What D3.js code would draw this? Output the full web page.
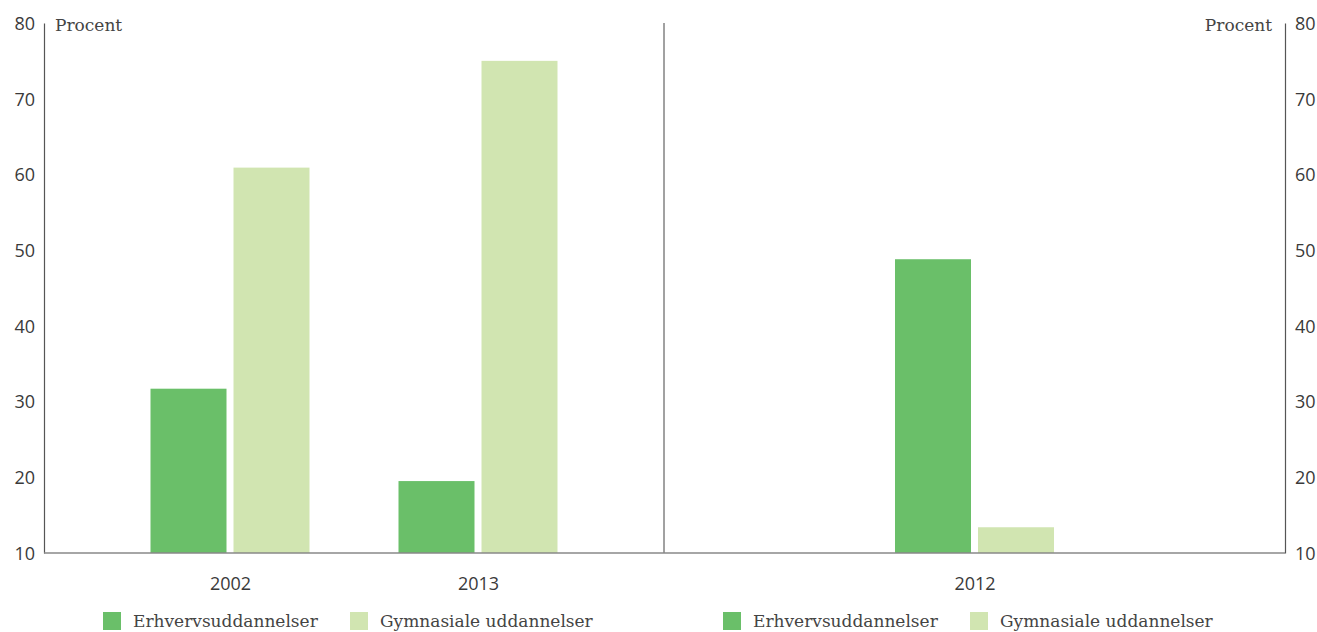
<!DOCTYPE html>
<html>
<head>
<meta charset="utf-8">
<script src="https://cdn.jsdelivr.net/npm/d3@7"></script>
<style>
body{margin:0;background:#fff;}
svg text{font-family:"DejaVu Serif","Liberation Serif",serif;fill:#444;font-size:17px;}
.num{font-family:"Open Sans","DejaVu Sans",sans-serif;font-weight:400;font-size:18px;fill:#3a3a3a;}
</style>
</head>
<body>
<svg id="chart" width="1317" height="632"></svg>
<script>
const seriesNames=['Erhvervsuddannelser','Gymnasiale uddannelser'];
const leftYears=['2002','2013'];
const leftErhverv=[31.7,19.5];
const leftGymnasiale=[60.9,75];
const rightYears=['2012'];
const rightErhverv=[48.8];
const rightGymnasiale=[13.4];
const yTicks=[10,20,30,40,50,60,70,80];
const colors=['#6abf69','#d1e5b1'];

const svg=d3.select('#chart');
const x0=44,xMid=664,x1=1285,yTop=23,yBot=553;
const y=d3.scaleLinear().domain([10,80]).range([yBot,yTop]);
const barW=76,gap=7;

// axes
const leftAx=svg.append('g').attr('transform',`translate(${x0},0)`)
  .call(d3.axisLeft(y).tickValues(yTicks).tickSize(0).tickPadding(9));
const rightAx=svg.append('g').attr('transform',`translate(${x1},0)`)
  .call(d3.axisRight(y).tickValues(yTicks).tickSize(0).tickPadding(10));
[leftAx,rightAx].forEach(a=>{
  a.select('.domain').attr('stroke','#555').attr('stroke-width',1.2);
  a.selectAll('text').attr('class','num').attr('dy','0.35em');
});
svg.append('line').attr('x1',xMid).attr('x2',xMid).attr('y1',yTop).attr('y2',yBot)
  .attr('stroke','#444').attr('stroke-width',1);

svg.append('text').attr('x',55).attr('y',31).text('Procent');
svg.append('text').attr('x',1272).attr('y',31).attr('text-anchor','end').text('Procent');

function panel(years,erh,gym,r0,r1,pad,legendX){
  const xs=d3.scalePoint().domain(years).range([r0,r1]).padding(pad);
  const data=years.map((yr,i)=>({yr,v:[erh[i],gym[i]]}));
  data.forEach(d=>{
    d.v.forEach((v,j)=>{
      const bx=xs(d.yr)+(j===0?-(barW+gap/2):gap/2);
      svg.append('rect').attr('x',bx).attr('width',barW)
        .attr('y',y(v)).attr('height',y(10)-y(v)).attr('fill',colors[j]);
    });
  });
  svg.append('g').attr('transform',`translate(0,${yBot})`)
    .call(d3.axisBottom(xs).tickSize(0).tickPadding(24))
    .call(g=>{g.select('.domain').remove();g.selectAll('text').attr('class','num');});
  // legend
  const offs=[0,247];
  seriesNames.forEach((n,j)=>{
    const lx=legendX+offs[j];
    svg.append('rect').attr('x',lx).attr('y',612).attr('width',18).attr('height',18).attr('fill',colors[j]);
    svg.append('text').attr('x',lx+30).attr('y',627).text(n);
  });
}
panel(leftYears,leftErhverv,leftGymnasiale,x0,xMid,0.75,103);
panel(rightYears,rightErhverv,rightGymnasiale,xMid,x1,0.5,723);

svg.append('line').attr('x1',x0).attr('x2',x1).attr('y1',yBot).attr('y2',yBot)
  .attr('stroke','#888').attr('stroke-width',1.5);
</script>
</body>
</html>
